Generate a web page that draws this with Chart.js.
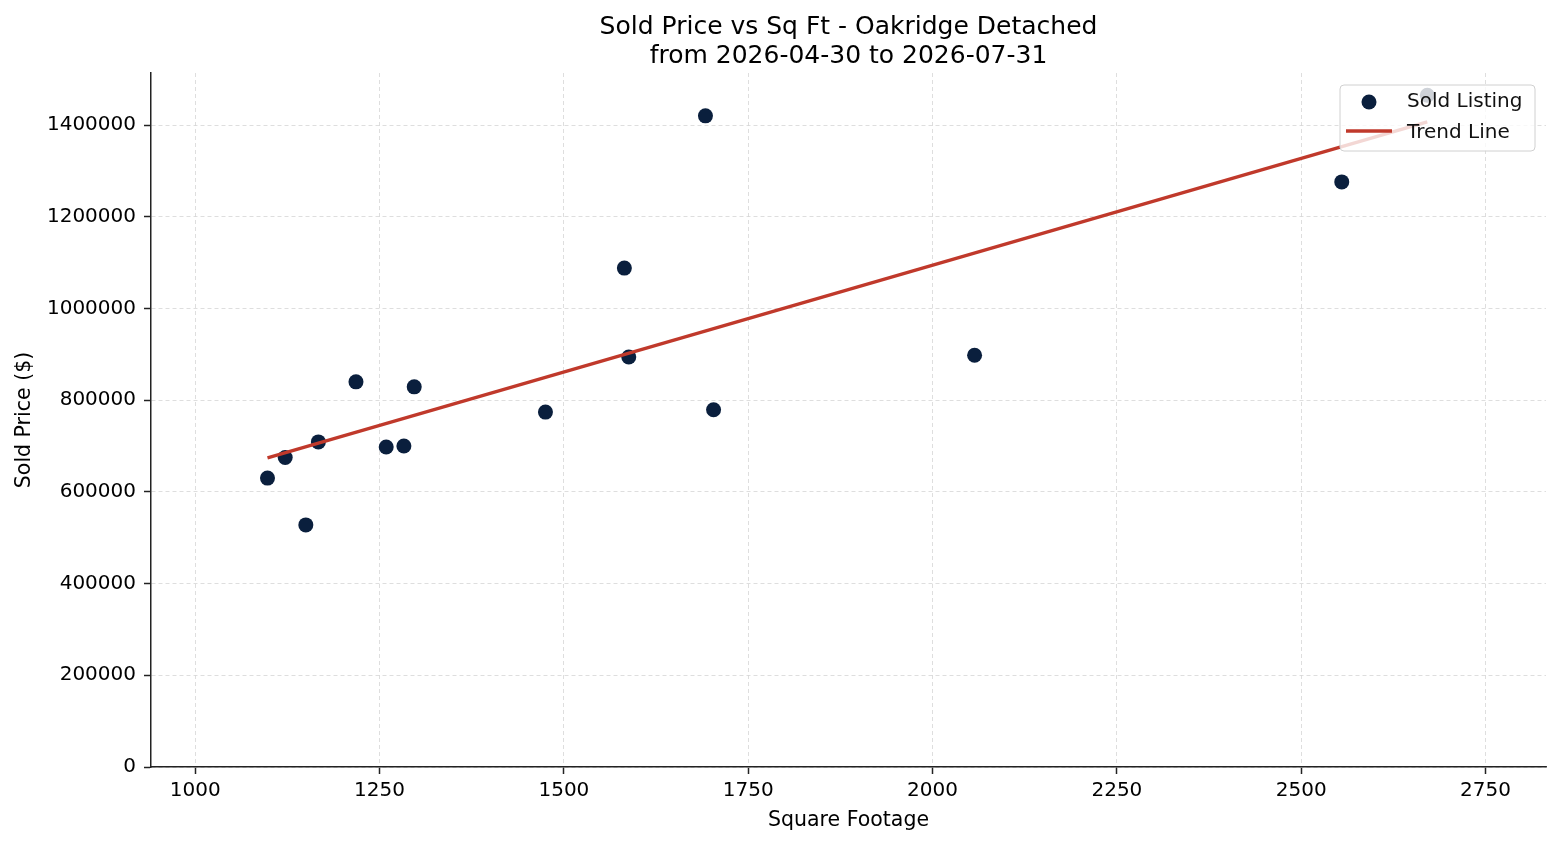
<!DOCTYPE html>
<html>
<head>
<meta charset="utf-8">
<script src="https://cdn.jsdelivr.net/npm/chart.js@4/dist/chart.umd.min.js"></script>
<style>
  html, body { margin: 0; padding: 0; background: #fff; }
  #wrap { width: 1560px; height: 845px; }
</style>
</head>
<body>
<div id="wrap"><canvas id="chart1" width="1560" height="845"></canvas></div>
<script>
// values
const sqft  = [1098, 1122, 1150, 1167, 1218, 1259, 1283, 1297, 1475, 1582, 1588, 1692, 1703, 2057, 2555, 2671];
const price = [630000, 675000, 528000, 709000, 840000, 698000, 700000, 829000, 774000, 1088000, 894000, 1420000, 779000, 898000, 1276000, 1465000];
const trendX = [1098, 2671];
const trendY = [674000, 1407000];
const xTicks = [1000, 1250, 1500, 1750, 2000, 2250, 2500, 2750];
const yTicks = [0, 200000, 400000, 600000, 800000, 1000000, 1200000, 1400000];

const FONT = "'DejaVu Sans', sans-serif";
const navy = '#0a1f3d';
const red = '#c0392b';

// legend box sits inside the plot, top right, like matplotlib
const boxLegend = {
  id: 'boxLegend',
  afterDraw(chart) {
    const ctx = chart.ctx;
    const x = 1340, y = 85, w = 195, h = 66;
    ctx.save();
    ctx.beginPath();
    ctx.roundRect(x, y, w, h, 4);
    ctx.fillStyle = 'rgba(255,255,255,0.8)';
    ctx.fill();
    ctx.strokeStyle = '#d0d0d0';
    ctx.lineWidth = 1;
    ctx.stroke();

    ctx.beginPath();
    ctx.arc(1369, 102, 7.5, 0, Math.PI * 2);
    ctx.fillStyle = navy;
    ctx.fill();

    ctx.beginPath();
    ctx.moveTo(1346, 131);
    ctx.lineTo(1392, 131);
    ctx.strokeStyle = red;
    ctx.lineWidth = 3.3;
    ctx.stroke();

    ctx.fillStyle = '#111';
    ctx.font = '20px ' + FONT;
    ctx.textBaseline = 'middle';
    ctx.fillText(chart.data.datasets[1].label, 1407, 102);
    ctx.fillText(chart.data.datasets[0].label, 1407, 133);
    ctx.restore();
  }
};

const ctx = document.getElementById('chart1').getContext('2d');
new Chart(ctx, {
  type: 'scatter',
  data: {
    datasets: [
      {
        label: 'Trend Line',
        data: trendX.map((v, i) => ({x: v, y: trendY[i]})),
        showLine: true,
        borderColor: red,
        backgroundColor: red,
        borderWidth: 3.3,
        pointRadius: 0,
        order: 1
      },
      {
        label: 'Sold Listing',
        data: sqft.map((v, i) => ({x: v, y: price[i]})),
        backgroundColor: navy,
        borderColor: navy,
        borderWidth: 0,
        pointRadius: 7.5,
        order: 2
      }
    ]
  },
  options: {
    responsive: false,
    animation: false,
    layout: { padding: { left: 0, right: 14, top: 0, bottom: 0 } },
    plugins: {
      legend: { display: false },
      tooltip: { enabled: false },
      title: {
        display: true,
        fullSize: false,
        text: ['Sold Price vs Sq Ft - Oakridge Detached', 'from 2026-04-30 to 2026-07-31'],
        color: '#000',
        font: { family: FONT, size: 25, weight: 'normal', lineHeight: 1.16 },
        padding: { top: 13, bottom: 2 }
      }
    },
    scales: {
      x: {
        type: 'linear',
        min: 940,
        max: 2832,
        afterBuildTicks: s => { s.ticks = xTicks.map(v => ({value: v})); },
        afterFit: s => { s.height = 78; },
        grid: {
          color: '#d6d6d6',
          lineWidth: 0.8,
          drawTicks: true,
          tickLength: 7,
          tickColor: '#222',
          tickWidth: 1.5
        },
        border: { display: true, color: '#222', width: 1.5, dash: [4, 3] },
        ticks: {
          color: '#000',
          padding: 5,
          maxRotation: 0,
          font: { family: FONT, size: 20 },
          callback: v => String(v)
        },
        title: {
          display: true,
          text: 'Square Footage',
          color: '#000',
          font: { family: FONT, size: 20.5 },
          padding: { top: 0, bottom: 12 }
        }
      },
      y: {
        type: 'linear',
        min: 0,
        max: 1513500,
        afterBuildTicks: s => { s.ticks = yTicks.map(v => ({value: v})); },
        afterFit: s => { s.width = 151; },
        grid: {
          color: '#d6d6d6',
          lineWidth: 0.8,
          drawTicks: true,
          tickLength: 7,
          tickColor: '#222',
          tickWidth: 1.5
        },
        border: { display: true, color: '#222', width: 1.5, dash: [4, 3] },
        ticks: {
          color: '#000',
          padding: 8,
          font: { family: FONT, size: 20 },
          callback: v => String(v)
        },
        title: {
          display: true,
          text: 'Sold Price ($)',
          color: '#000',
          font: { family: FONT, size: 20.5 },
          padding: { top: 12, bottom: 0 }
        }
      }
    }
  },
  plugins: [boxLegend]
});
</script>
</body>
</html>
